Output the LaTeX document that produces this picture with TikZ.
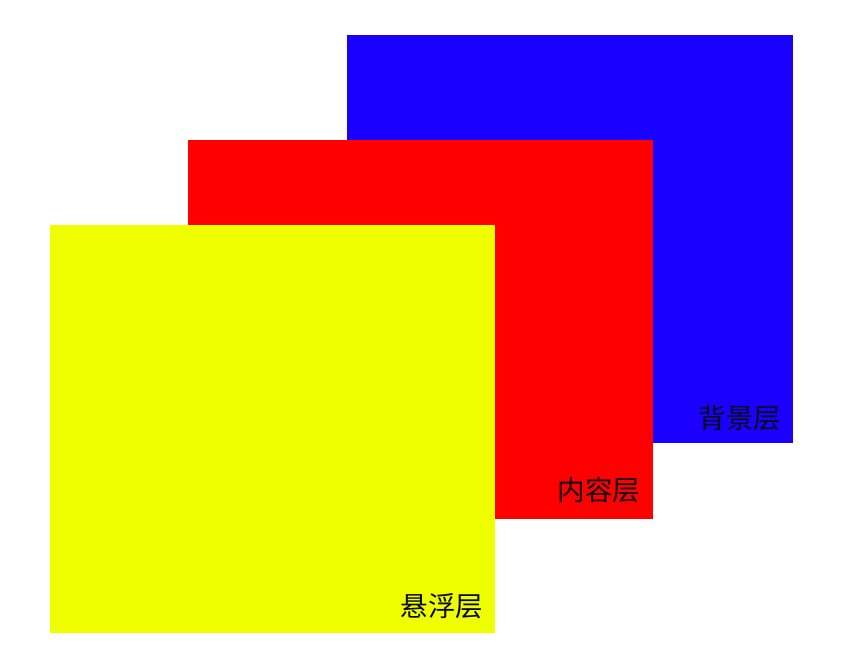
\documentclass[tikz,border=0pt]{standalone}
\usepackage{fontspec}
\newfontfamily\cjk{Noto Sans CJK SC}
\definecolor{layblue}{RGB}{26,0,255}
\definecolor{layred}{RGB}{255,0,0}
\definecolor{layyellow}{RGB}{240,255,0}
\definecolor{laytext}{RGB}{10,10,20}
\begin{document}
\begin{tikzpicture}[x=1pt,y=-1pt,
  layer/.style={draw=none,inner sep=0pt,outer sep=0pt},
  laylabel/.style={inner sep=0pt,outer sep=0pt,anchor=east,text=laytext,font=\cjk\fontsize{27.5}{30}\selectfont}]
\useasboundingbox (0,0) rectangle (848,661);
\fill[white] (0,0) rectangle (848,661);
\fill[layblue] (347,35) rectangle (793,443);
\node[layer] (bg) at (570,239) {};
\fill[layred] (188,140) rectangle (653,519);
\node[layer] (ct) at (420.5,329.5) {};
\fill[layyellow] (50,225) rectangle (495,633);
\node[layer] (fl) at (272.5,429) {};
\node[laylabel] (bgl) at (781,418.5) {背景层};
\node[laylabel] (ctl) at (640,490.5) {内容层};
\node[laylabel] (fll) at (483,606) {悬浮层};
\end{tikzpicture}
\end{document}
